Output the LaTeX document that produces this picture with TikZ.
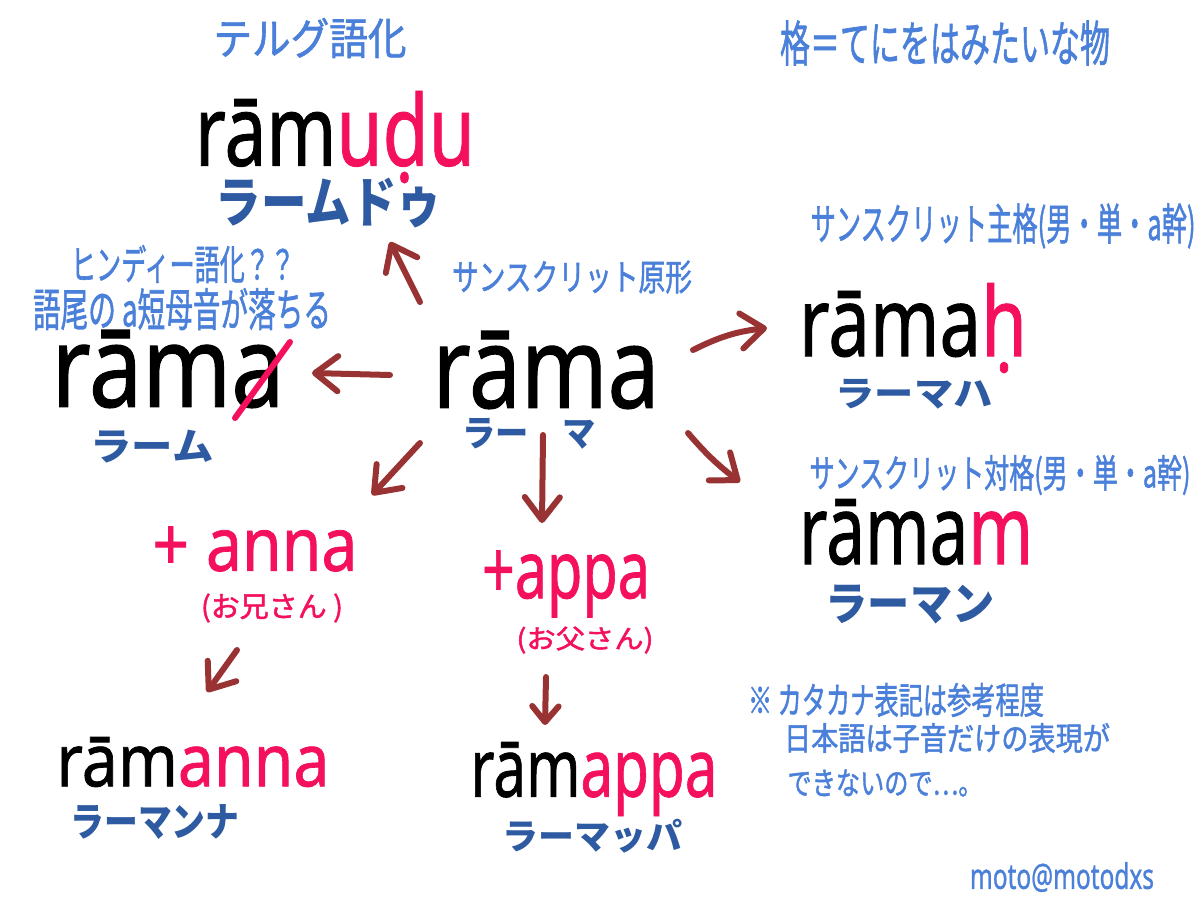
\documentclass[tikz,border=0pt]{standalone}
\usepackage{fontspec}
\usepackage{graphicx}
\setmainfont{Noto Sans}
\newfontfamily\jp{Noto Sans CJK JP}
\newfontfamily\jpn{Noto Sans CJK JP}[FakeBold=1.5]
\newfontfamily\latn{Noto Sans}[FakeBold=1]
\usetikzlibrary{arrows.meta}
\definecolor{lb}{HTML}{4A80D9}
\definecolor{db}{HTML}{2E5AA2}
\definecolor{pk}{HTML}{F4105C}
\definecolor{ar}{HTML}{993333}
\newlength\px
\setlength\px{0.02cm}
\newcommand\fb[3]{\resizebox*{#1\px}{#2\px}{#3}}
\begin{document}
\begin{tikzpicture}[x=0.02cm,y=-0.02cm,
  every node/.style={inner sep=0pt,outer sep=0pt,anchor=center},
  word/.style={font=\latn\fontsize{40}{48}\selectfont, text=black},
  kana/.style={font=\jp\bfseries\fontsize{20}{24}\selectfont, text=db},
  note/.style={font=\jpn\fontsize{20}{24}\selectfont, text=lb},
  pnote/.style={font=\jpn\fontsize{20}{24}\selectfont, text=pk},
  plus/.style={font=\latn\fontsize{40}{48}\selectfont, text=pk},
  sign/.style={font=\latn\fontsize{20}{24}\selectfont, text=lb},
  arr/.style={draw=ar, line width=0.12cm, line cap=round,
    -{Straight Barb[length=13pt,width=20pt,round]}},
  arrs/.style={arr, -{Straight Barb[length=9pt,width=15pt,round]}},
  strike/.style={draw=pk, line width=0.12cm, line cap=round},
]
\fill[white] (0,0) rectangle (1200,900);
\useasboundingbox (0,0) rectangle (1200,900);

% top left
\node[note] (telugu) at (310,38) {\fb{193}{40}{テルグ語化}};
\node[word] (ramudu) at (335,137) {\fb{280}{92}{rām\textcolor{pk}{uḍu}}};
\node[kana] (ramudukana) at (329,203) {\fb{226}{50}{ラームドゥ}};

% hindi
\node[note] (hindi1) at (183,264) {\fb{224}{38}{ヒンディー語化？？}};
\node[note] (hindi2) at (182,309) {\fb{298}{42}{語尾の a短母音が落ちる}};
\node[word] (ramaleft) at (168,369) {\fb{233}{78}{rāma}};
\node[kana] (ramaleftkana) at (152,447) {\fb{123}{33}{ラーム}};

% center
\node[note] (genkei) at (572,277) {\fb{240}{33}{サンスクリット原形}};
\node[word] (rama) at (546,370) {\fb{227}{78}{rāma}};
\node[kana] (ramakana) at (529,434) {\fb{133}{31}{ラー　マ}};

% right
\node[note] (kaku) at (945,43) {\fb{330}{45}{格＝てにをはみたいな物}};
\node[note] (shukaku) at (1003,226) {\fb{385}{45}{サンスクリット主格(男・単・a幹)}};
\node[word] (ramah) at (913,328) {\fb{228}{90}{rāma\textcolor{pk}{ḥ}}};
\node[kana] (ramahkana) at (914,394) {\fb{157}{30}{ラーマハ}};
\node[note] (taikaku) at (1000,475) {\fb{381}{40}{サンスクリット対格(男・単・a幹)}};
\node[word] (ramam) at (916,532) {\fb{234}{66}{rāma\textcolor{pk}{m}}};
\node[kana] (ramamkana) at (910,604) {\fb{169}{39}{ラーマン}};

% anna
\node[plus] (anna) at (255,549) {\fb{205}{45}{+ anna}};
\node[pnote] (annajp) at (272,608) {\fb{142}{29}{(お兄さん )}};
\node[word] (ramanna) at (193,762) {\fb{273}{50}{rām\textcolor{pk}{anna}}};
\node[kana] (ramannakana) at (155,822) {\fb{169}{35}{ラーマンナ}};

% appa
\node[plus] (appa) at (566,584) {\fb{168}{67}{+appa}};
\node[pnote] (appajp) at (585,640) {\fb{137}{27}{(お父さん)}};
\node[word] (ramappa) at (594,779) {\fb{247}{74}{rām\textcolor{pk}{appa}}};
\node[kana] (ramappakana) at (592,836) {\fb{180}{34}{ラーマッパ}};

% notes
\node[note] (n1) at (896,700) {\fb{296}{34}{※ カタカナ表記は参考程度}};
\node[note] (n2) at (947,738) {\fb{326}{30}{日本語は子音だけの表現が}};
\node[note] (n3) at (885,783) {\fb{195}{27}{できないので…。}};
\node[sign] (sig) at (1062,877) {\fb{184}{30}{moto@motodxs}};

% strike through the final a
\draw[strike] (290,342) -- (235,418);

% arrow ends
\coordinate (a1s) at (420,302); \coordinate (a1e) at (390,242);
\coordinate (a2s) at (390,375); \coordinate (a2e) at (312,373);
\coordinate (a3s) at (693,350); \coordinate (a3e) at (767,328);
\coordinate (a4s) at (688,433); \coordinate (a4e) at (740,482);
\coordinate (a5s) at (420,443); \coordinate (a5e) at (372,495);
\coordinate (a6s) at (543,435); \coordinate (a6e) at (542,523);
\coordinate (a7s) at (237,650); \coordinate (a7e) at (207,692);
\coordinate (a8s) at (546,677); \coordinate (a8e) at (545,725);

\draw[arr] (a1s) -- (a1e);
\draw[arr] (a2s) -- (a2e);
\draw[arr] (a3s) to[bend left=10] (a3e);
\draw[arr] (a4s) to[bend right=6] (a4e);
\draw[arr] (a5s) -- (a5e);
\draw[arr] (a6s) -- (a6e);
\draw[arr] (a7s) -- (a7e);
\draw[arrs] (a8s) -- (a8e);
\end{tikzpicture}
\end{document}
